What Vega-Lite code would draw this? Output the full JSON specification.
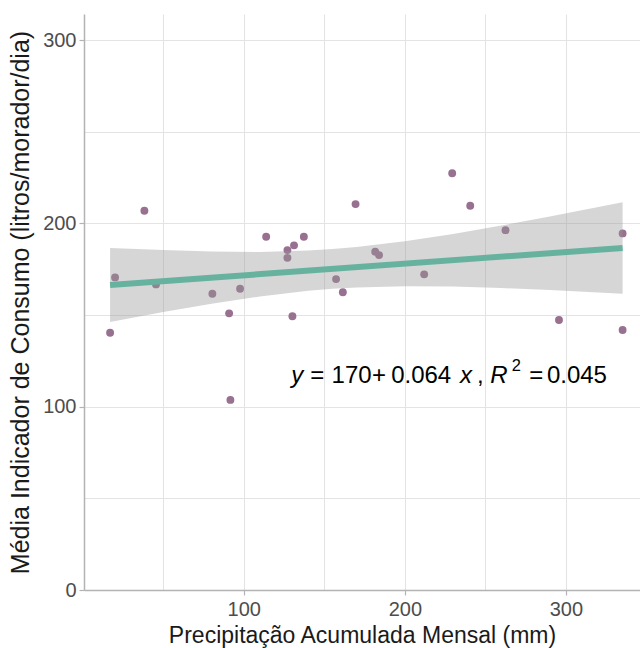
{
  "$schema": "https://vega.github.io/schema/vega-lite/v6.json",
  "width": 556,
  "height": 576,
  "autosize": {"type": "none"},
  "padding": {"left": 84, "top": 14, "right": 0, "bottom": 58},
  "background": "white",
  "config": {
    "view": {"stroke": null},
    "font": "Liberation Sans",
    "axis": {
      "domainColor": "#b3b3b3",
      "domainWidth": 1.5,
      "tickColor": {"condition": {"test": "datum.value % 100 == 0", "value": "#b3b3b3"}, "value": "transparent"},
      "tickSize": 5,
      "tickWidth": 1.2,
      "gridColor": "#e3e3e3",
      "gridWidth": 1,
      "labelFont": "Liberation Sans",
      "labelFontSize": 20,
      "labelColor": "#4d4d4d",
      "titleFont": "Liberation Sans",
      "titleFontWeight": "normal",
      "titleColor": "#1a1a1a",
      "labelExpr": "datum.value % 100 == 0 ? datum.label : ''"
    }
  },
  "datasets": {
    "points": [
      {"precip": 17.0, "consumo": 140.3},
      {"precip": 20.1, "consumo": 170.5},
      {"precip": 38.3, "consumo": 206.9},
      {"precip": 45.5, "consumo": 166.7},
      {"precip": 80.5, "consumo": 161.6},
      {"precip": 90.9, "consumo": 150.9},
      {"precip": 91.7, "consumo": 103.7},
      {"precip": 97.7, "consumo": 164.3},
      {"precip": 113.9, "consumo": 192.7},
      {"precip": 127.1, "consumo": 185.4},
      {"precip": 131.2, "consumo": 188.0},
      {"precip": 137.3, "consumo": 192.7},
      {"precip": 127.1, "consumo": 181.2},
      {"precip": 130.2, "consumo": 149.3},
      {"precip": 157.3, "consumo": 169.6},
      {"precip": 161.5, "consumo": 162.4},
      {"precip": 169.4, "consumo": 210.5},
      {"precip": 181.6, "consumo": 184.5},
      {"precip": 184.0, "consumo": 182.7},
      {"precip": 212.0, "consumo": 172.2},
      {"precip": 229.4, "consumo": 227.3},
      {"precip": 240.6, "consumo": 209.6},
      {"precip": 262.5, "consumo": 196.3},
      {"precip": 295.7, "consumo": 147.3},
      {"precip": 335.2, "consumo": 194.5},
      {"precip": 335.2, "consumo": 141.8}
    ],
    "band": [
      {"precip": 17.0, "lo": 146.2, "hi": 186.6},
      {"precip": 50, "lo": 151.6, "hi": 185.4},
      {"precip": 80, "lo": 156.1, "hi": 184.6},
      {"precip": 110, "lo": 160.1, "hi": 184.4},
      {"precip": 140, "lo": 163.2, "hi": 185.2},
      {"precip": 155, "lo": 164.3, "hi": 186.0},
      {"precip": 170, "lo": 165.0, "hi": 187.1},
      {"precip": 200, "lo": 165.7, "hi": 190.2},
      {"precip": 230, "lo": 165.5, "hi": 194.2},
      {"precip": 260, "lo": 164.7, "hi": 198.8},
      {"precip": 290, "lo": 163.6, "hi": 203.7},
      {"precip": 335.2, "lo": 161.6, "hi": 211.5}
    ],
    "normalText": [
      {"precip": 141.3, "consumo": 112.9, "txt": "="},
      {"precip": 154.5, "consumo": 112.9, "txt": "170"},
      {"precip": 179.6, "consumo": 112.9, "txt": "+"},
      {"precip": 191.5, "consumo": 112.9, "txt": "0.064"},
      {"precip": 244.8, "consumo": 112.9, "txt": ","},
      {"precip": 277.2, "consumo": 112.9, "txt": "="},
      {"precip": 288.2, "consumo": 112.9, "txt": "0.045"}
    ],
    "italicText": [
      {"precip": 129.4, "consumo": 112.9, "txt": "y"},
      {"precip": 234.2, "consumo": 112.9, "txt": "x"},
      {"precip": 253.0, "consumo": 112.9, "txt": "R"}
    ],
    "supText": [
      {"precip": 266.3, "consumo": 119.3, "txt": "2"}
    ]
  },
  "encoding": {
    "x": {
      "field": "precip",
      "type": "quantitative",
      "scale": {"domain": [0.8, 346], "nice": false, "zero": false},
      "axis": {"values": [50, 100, 150, 200, 250, 300], "title": "Precipitação Acumulada Mensal (mm)", "titleFontSize": 23, "labelPadding": 4, "titlePadding": 5}
    },
    "y": {
      "field": "consumo",
      "type": "quantitative",
      "scale": {"domain": [0, 314.2], "nice": false},
      "axis": {"values": [0, 50, 100, 150, 200, 250, 300], "title": "Média Indicador de Consumo (litros/morador/dia)", "titleFontSize": 25, "labelPadding": 3, "titlePadding": 9}
    }
  },
  "layer": [
    {
      "data": {"name": "points"},
      "mark": {"type": "circle", "size": 62, "color": "#987090", "opacity": 1}
    },
    {
      "data": {"name": "band"},
      "mark": {"type": "area", "color": "#999999", "opacity": 0.4},
      "encoding": {
        "y": {"field": "lo", "type": "quantitative"},
        "y2": {"field": "hi"}
      }
    },
    {
      "data": {"name": "points"},
      "transform": [{"regression": "consumo", "on": "precip", "method": "linear"}],
      "mark": {"type": "line", "color": "#66b29e", "strokeWidth": 6}
    },
    {
      "data": {"values": [{}]},
      "mark": {"type": "rule", "color": "#b3b3b3", "strokeWidth": 1.5},
      "encoding": {"x": null, "y": {"datum": 314.2}}
    },
    {
      "data": {"name": "normalText"},
      "mark": {"type": "text", "align": "left", "baseline": "alphabetic", "fontSize": 24, "font": "Liberation Sans", "color": "black"},
      "encoding": {"text": {"field": "txt"}}
    },
    {
      "data": {"name": "italicText"},
      "mark": {"type": "text", "align": "left", "baseline": "alphabetic", "fontSize": 24, "fontStyle": "italic", "font": "Liberation Sans", "color": "black"},
      "encoding": {"text": {"field": "txt"}}
    },
    {
      "data": {"name": "supText"},
      "mark": {"type": "text", "align": "left", "baseline": "alphabetic", "fontSize": 16.5, "font": "Liberation Sans", "color": "black"},
      "encoding": {"text": {"field": "txt"}}
    }
  ]
}
